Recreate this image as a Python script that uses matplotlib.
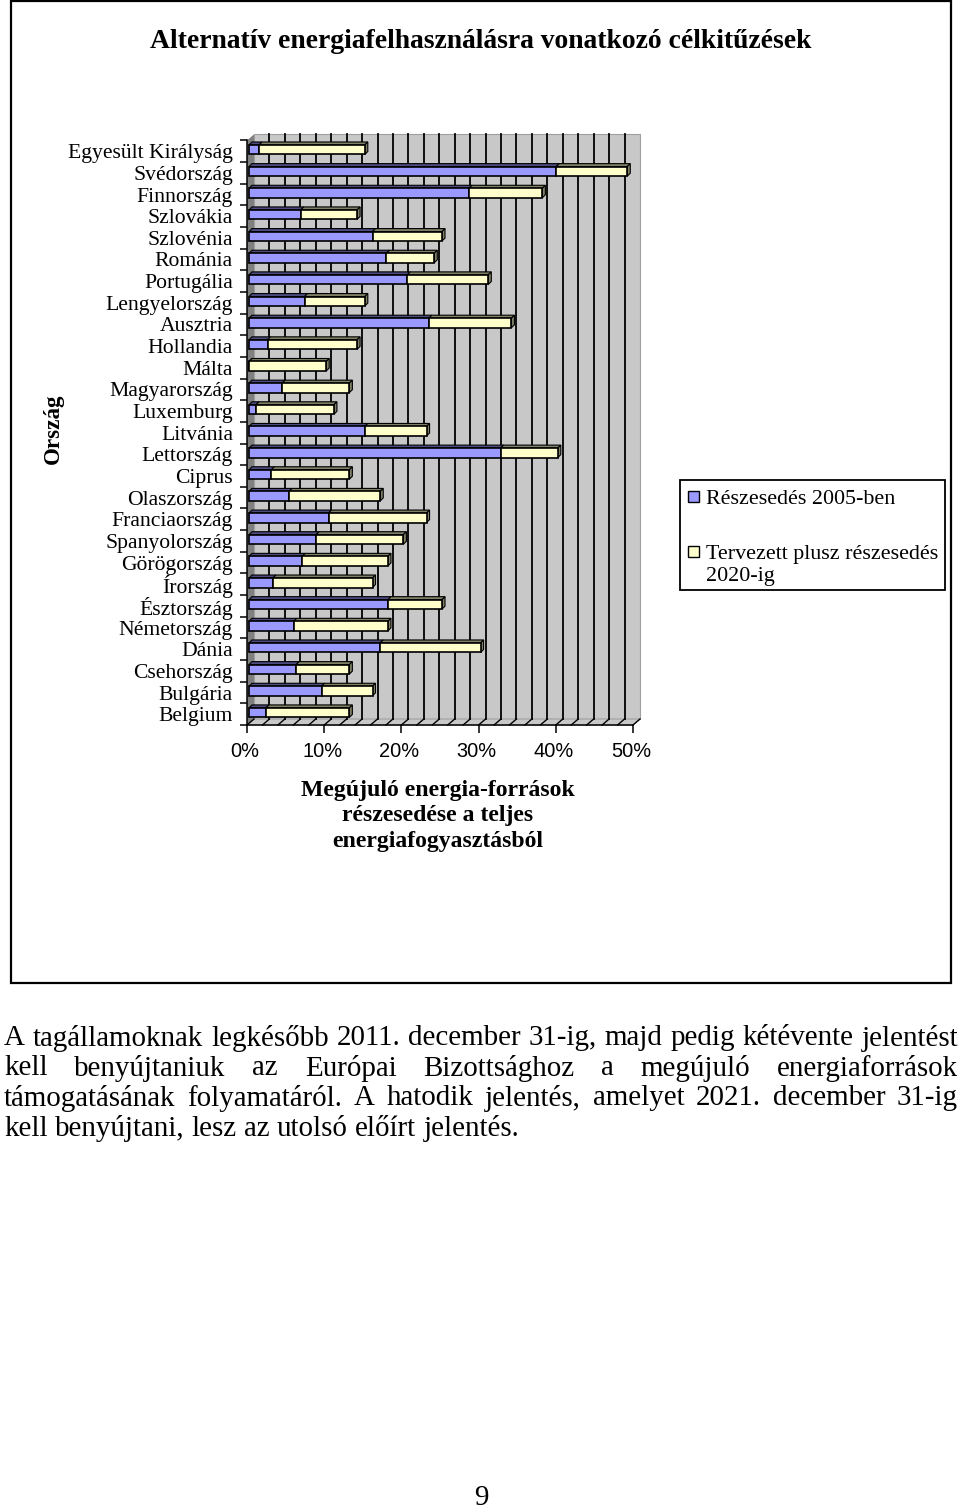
"""Alternatív energiafelhasználás chart with the page text around it."""
import matplotlib
matplotlib.use("Agg")
import matplotlib.pyplot as plt
from matplotlib.patches import Rectangle, Polygon
from matplotlib.transforms import Affine2D

W, H = 960, 1508
SERIF = "Liberation Serif"
SANS = "Liberation Sans"

COUNTRIES = ["Belgium", "Bulgária", "Csehország", "Dánia", "Németország", "Észtország",
             "Írország", "Görögország", "Spanyolország", "Franciaország", "Olaszország",
             "Ciprus", "Lettország", "Litvánia", "Luxemburg", "Magyarország", "Málta",
             "Hollandia", "Ausztria", "Lengyelország", "Portugália", "Románia", "Szlovénia",
             "Szlovákia", "Finnország", "Svédország", "Egyesült Királyság"]
SHARE_2005 = [2.2, 9.4, 6.1, 17.0, 5.8, 18.0, 3.1, 6.9, 8.7, 10.3, 5.2, 2.9, 32.6, 15.0,
              0.9, 4.3, 0.0, 2.4, 23.3, 7.2, 20.5, 17.8, 16.0, 6.7, 28.5, 39.8, 1.3]
TARGET_2020 = [13, 16, 13, 30, 18, 25, 16, 18, 20, 23, 17, 13, 40, 23,
               11, 13, 10, 14, 34, 15, 31, 24, 25, 14, 38, 49, 15]
X_TICKS = [0, 10, 20, 30, 40, 50]
GRID_VALUES = list(range(0, 51, 2))

BODY_LINES = [
    "A tagállamoknak legkésőbb 2011. december 31-ig, majd pedig kétévente jelentést",
    "kell benyújtaniuk az Európai Bizottsághoz a megújuló energiaforrások",
    "támogatásának folyamatáról. A hatodik jelentés, amelyet 2021. december 31-ig",
    "kell benyújtani, lesz az utolsó előírt jelentés.",
]

BLUE, CREAM = "#9999FF", "#FFFFCC"
BLUE_DARK, CREAM_DARK = "#4C4C80", "#808066"
WALL, SIDE_WALL = "#C8C8C8", "#808080"

# plot box in picture pixels
AX_L, AX_R, AX_T, AX_B = 247, 633, 140.4, 725


def justify(page, renderer, line, y, x0, x1, fontsize, stretch=True):
    """Put the words of one line so that they fill x0..x1."""
    words = line.split()
    items = [page.text(0, y, w, family=SERIF, fontsize=fontsize, va="center", color="black")
             for w in words]
    widths = [t.get_window_extent(renderer).width for t in items]
    if stretch:
        gap = (x1 - x0 - sum(widths)) / (len(words) - 1)
    else:
        gap = fontsize / 0.72 * 0.25
    x = x0
    for t, w in zip(items, widths):
        t.set_x(x)
        x += w + gap


fig = plt.figure(figsize=(W / 100, H / 100), dpi=100)
renderer = fig.canvas.get_renderer()

page = fig.add_axes([0, 0, 1, 1])
page.set_xlim(0, W)
page.set_ylim(H, 0)
page.axis("off")
page.add_patch(Rectangle((10.5, 0.8), 940.5, 982, fc="white", ec="black", lw=1.6))

page.text(481, 41, "Alternatív energiafelhasználásra vonatkozó célkitűzések", family=SERIF,
          weight="bold", fontsize=19.9, ha="center", va="center")
page.text(53, 429, "Ország", family=SERIF, weight="bold", fontsize=16.6, rotation=90,
          ha="center", va="center")
page.text(438, 816, "Megújuló energia-források\nrészesedése a teljes\nenergiafogyasztásból",
          family=SERIF, weight="bold", fontsize=17.1, ha="center", va="center", linespacing=1.29)

for i, line in enumerate(BODY_LINES):
    y = [1038, 1068, 1098, 1129][i]
    justify(page, renderer, line, y, 4, 958, 20.9, stretch=i < 3)
page.text(481, 1498, "9", family=SERIF, fontsize=20.9, ha="center", va="center")

ax = fig.add_axes([AX_L / W, 1 - AX_B / H, (AX_R - AX_L) / W, (AX_B - AX_T) / H])
ax.patch.set_visible(False)
ax.set_xlim(0, 50)
ax.set_ylim(-0.5, len(COUNTRIES) - 0.5)

# pixel sizes expressed in data units
px_x = 50 / (AX_R - AX_L)
px_y = len(COUNTRIES) / (AX_B - AX_T)
wall_dx, wall_dy = 7 * px_x, 6 * px_y
y0, y1 = ax.get_ylim()

# 3d box: back wall, left wall, floor
ax.add_patch(Polygon([(wall_dx, y0 + wall_dy), (50 + wall_dx, y0 + wall_dy),
                      (50 + wall_dx, y1 + wall_dy), (wall_dx, y1 + wall_dy)],
                     fc=WALL, ec="#A0A0A0", lw=0.8, clip_on=False, zorder=1))
ax.add_patch(Polygon([(0, y0), (wall_dx, y0 + wall_dy), (wall_dx, y1 + wall_dy), (0, y1)],
                     fc=SIDE_WALL, ec="none", clip_on=False, zorder=1))
ax.add_patch(Polygon([(0, y0), (50, y0), (50 + wall_dx, y0 + wall_dy), (wall_dx, y0 + wall_dy)],
                     fc=WALL, ec="#A0A0A0", lw=0.8, clip_on=False, zorder=1))
for v in GRID_VALUES[1:-1]:
    ax.plot([v + wall_dx] * 2, [y0 + wall_dy, y1 + wall_dy], color="black", lw=1.3,
            clip_on=False, zorder=2)
for v in GRID_VALUES:
    ax.plot([v, v + wall_dx], [y0, y0 + wall_dy], color="black", lw=1.0, clip_on=False, zorder=2)

# bars with their depth faces
bar_left = 2 * px_x
bar_h = 9.5 * px_y
bar_shift = 1.5 * px_y
dep_x, dep_y = 3 * px_x, 3 * px_y
ypos = list(range(len(COUNTRIES)))
plus = [t - s for t, s in zip(TARGET_2020, SHARE_2005)]
for y, share, extra in zip(ypos, SHARE_2005, plus):
    bot = y + bar_shift - bar_h / 2
    top = bot + bar_h
    start = bar_left
    mid = bar_left + share
    end = mid + extra
    for a, b, dark in ((start, mid, BLUE_DARK), (mid, end, CREAM_DARK)):
        ax.add_patch(Polygon([(a, top), (b, top), (b + dep_x, top + dep_y), (a + dep_x, top + dep_y)],
                             fc=dark, ec="black", lw=0.8, zorder=3, clip_on=False))
    ax.add_patch(Polygon([(end, bot), (end + dep_x, bot + dep_y), (end + dep_x, top + dep_y), (end, top)],
                         fc=CREAM_DARK, ec="black", lw=0.8, zorder=3, clip_on=False))

blue_bars = ax.barh(ypos, SHARE_2005, left=bar_left, height=bar_h, color=BLUE, edgecolor="black",
                    linewidth=1.2, zorder=4, clip_on=False)
cream_bars = ax.barh(ypos, plus, left=[bar_left + s for s in SHARE_2005], height=bar_h, color=CREAM,
                     edgecolor="black", linewidth=1.2, zorder=4, clip_on=False)
for bars in (blue_bars, cream_bars):
    for b in bars:
        b.set_y(b.get_y() + bar_shift)

# axes and ticks
for side in ("top", "right"):
    ax.spines[side].set_visible(False)
for side in ("left", "bottom"):
    ax.spines[side].set_linewidth(1.1)
    ax.spines[side].set_zorder(5)

ax.set_xticks(X_TICKS)
ax.set_xticklabels([f"{v}%" for v in X_TICKS], family=SANS, fontsize=14.4)
ax.tick_params(axis="x", length=5.5, width=1.1, pad=7)
for lab in ax.get_xticklabels():
    lab.set_transform(lab.get_transform() + Affine2D().translate(-2, 0))
ax.set_yticks(ypos)
ax.set_yticklabels(COUNTRIES, family=SERIF, fontsize=15.6)
ax.tick_params(axis="y", which="major", length=0, pad=10.2)
ax.set_yticks([y - 0.5 for y in ypos] + [ypos[-1] + 0.5], minor=True)
ax.tick_params(axis="y", which="minor", length=5, width=1.1)

# legend box, the wrapped second entry keeps its swatch on the first line
top_page = fig.add_axes([0, 0, 1, 1])
top_page.set_xlim(0, W)
top_page.set_ylim(H, 0)
top_page.axis("off")
top_page.patch.set_visible(False)
top_page.add_patch(Rectangle((680, 480), 265, 110, fc="white", ec="black", lw=1.3))
top_page.add_patch(Rectangle((688, 491), 11, 11, fc=BLUE, ec="black", lw=1.0))
top_page.add_patch(Rectangle((688, 546), 11, 11, fc=CREAM, ec="black", lw=1.0))
top_page.text(706, 499, "Részesedés 2005-ben", family=SERIF, fontsize=15.8, va="center")
top_page.text(706, 554, "Tervezett plusz részesedés", family=SERIF, fontsize=15.8, va="center")
top_page.text(706, 577, "2020-ig", family=SERIF, fontsize=15.8, va="center")

fig.savefig("out.png", dpi=100)
